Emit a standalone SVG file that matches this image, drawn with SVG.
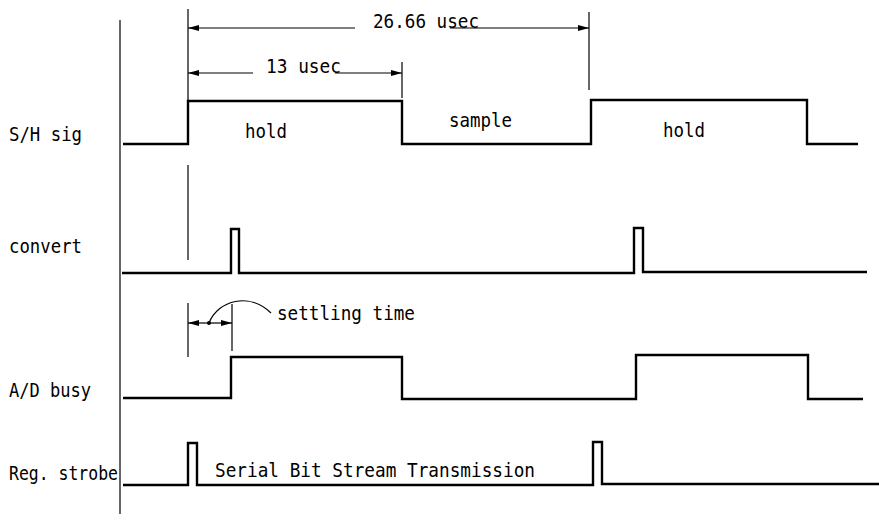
<svg xmlns="http://www.w3.org/2000/svg" width="879" height="523" viewBox="0 0 879 523">
<defs>
<marker id="arr" markerUnits="userSpaceOnUse" markerWidth="12" markerHeight="8" refX="11" refY="4" orient="auto-start-reverse">
<path d="M0,1 L11,4 L0,7 Z" fill="#000"/>
</marker>
</defs>
<style>
.sig{fill:none;stroke:#000;stroke-width:2.4;stroke-linejoin:miter}
.thin{fill:none;stroke:#000;stroke-width:1.2}
.dim{fill:none;stroke:#000;stroke-width:1.2}
text{font-family:"DejaVu Sans Mono","Liberation Mono",monospace;font-size:20px;fill:#000}
</style>
<rect width="879" height="523" fill="#fff"/>
<g id="axis"><line class="thin" x1="120" y1="20" x2="120" y2="514" stroke-width="1.5"/></g>
<g id="labels">
<text x="9" y="141" textLength="73" lengthAdjust="spacingAndGlyphs">S/H sig</text>
<text x="9" y="253" textLength="73" lengthAdjust="spacingAndGlyphs">convert</text>
<text x="9" y="397" textLength="82" lengthAdjust="spacingAndGlyphs">A/D busy</text>
<text x="9" y="480" textLength="109" lengthAdjust="spacingAndGlyphs">Reg. strobe</text>
</g>
<g id="sh-sig">
<path class="sig" d="M123,144 H188 V101 H402 V144 H591 V100 H807 V144 H858"/>
<text x="245" y="138" textLength="42" lengthAdjust="spacingAndGlyphs">hold</text>
<text x="449" y="127" textLength="63" lengthAdjust="spacingAndGlyphs">sample</text>
<text x="663" y="137" textLength="42" lengthAdjust="spacingAndGlyphs">hold</text>
</g>
<g id="convert">
<path class="sig" d="M122,273 H231 V229 H239 V273 H634 V228 H643 V272 H867"/>
</g>
<g id="ad-busy">
<path class="sig" d="M123,398 H231 V357 H402 V399 H636 V355 H808 V399 H863"/>
</g>
<g id="reg-strobe">
<path class="sig" d="M123,485 H188 V443 H197 V485 H593 V442 H602 V484 H879"/>
<text x="215" y="477" textLength="320" lengthAdjust="spacingAndGlyphs">Serial Bit Stream Transmission</text>
</g>
<g id="connectors">
<line class="thin" x1="188" y1="9" x2="188" y2="100"/>
<line class="thin" x1="402" y1="62" x2="402" y2="98"/>
<line class="thin" x1="589" y1="12" x2="589" y2="90"/>
<line class="dim" x1="355" y1="28" x2="188" y2="28" marker-end="url(#arr)"/>
<line class="dim" x1="450" y1="28" x2="589" y2="28" marker-end="url(#arr)"/>
<line class="dim" x1="253" y1="73" x2="188" y2="73" marker-end="url(#arr)"/>
<line class="dim" x1="335" y1="73" x2="402" y2="73" marker-end="url(#arr)"/>
<line class="thin" x1="188" y1="165" x2="188" y2="260"/>
<line class="thin" x1="188" y1="303" x2="188" y2="357"/>
<line class="thin" x1="232" y1="304" x2="232" y2="351"/>
<line class="dim" x1="209" y1="323" x2="188" y2="323" marker-end="url(#arr)"/>
<line class="dim" x1="209" y1="323" x2="232" y2="323" marker-end="url(#arr)"/>
<circle cx="209" cy="323" r="2" fill="#000"/>
<path class="thin" d="M209,323 C218,300 250,292 271,313"/>
</g>
<g id="dim-labels">
<text x="373" y="28" textLength="106" lengthAdjust="spacingAndGlyphs">26.66 usec</text>
<text x="266" y="73" textLength="75" lengthAdjust="spacingAndGlyphs">13 usec</text>
<text x="277" y="320" textLength="138" lengthAdjust="spacingAndGlyphs">settling time</text>
</g>
</svg>
